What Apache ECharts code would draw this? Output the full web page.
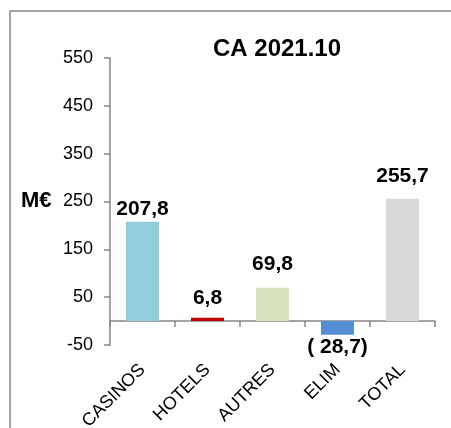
<!DOCTYPE html>
<html>
<head>
<meta charset="utf-8">
<script src="https://cdn.jsdelivr.net/npm/echarts@6/dist/echarts.min.js"></script>
<style>
  html, body { margin: 0; padding: 0; background: #fff; }
  #main { width: 451px; height: 428px; }
</style>
</head>
<body>
<div id="main"></div>
<script>
// CA 2021.10, M€
var categories = ['CASINOS', 'HOTELS', 'AUTRES', 'ELIM', 'TOTAL'];
var values = [207.8, 6.8, 69.8, -28.7, 255.7];
var barColors = ['#92CDDC', '#C00000', '#D7E4BD', '#558ED5', '#D9D9D9'];
var yTicks = [-50, 50, 150, 250, 350, 450, 550];

// label gap from the bar end (Excel places them a bit unevenly)
var labelGap = [2, 9, 13, 2, 12];

function fmt(v) {
    var s = Math.abs(v).toFixed(1).replace('.', ',');
    return v < 0 ? '( ' + s + ')' : s;
}

var seriesData = [];
for (var i = 0; i < values.length; i++) {
    seriesData.push({
        value: values[i],
        itemStyle: { color: barColors[i] },
        label: {
            position: values[i] < 0 ? 'bottom' : 'top',
            distance: labelGap[i]
        }
    });
}

var FONT = '"Liberation Sans", Arial, sans-serif';
var chart = echarts.init(document.getElementById('main'));
var option = {
    animation: false,
    graphic: [
        {
            type: 'rect',
            shape: { x: 10, y: 11, width: 460, height: 430 },
            style: { fill: 'none', stroke: '#888888', lineWidth: 1.5 },
            silent: true
        },
        {
            type: 'text',
            left: 21,
            top: 190,
            style: {
                text: 'M€',
                font: 'bold 22px ' + FONT,
                fill: '#000'
            }
        }
    ],
    title: {
        text: 'CA 2021.10',
        left: 272,
        top: 32,
        textAlign: 'center',
        textStyle: {
            fontFamily: FONT,
            fontSize: 24,
            fontWeight: 'bold',
            color: '#000'
        }
    },
    grid: { left: 110, right: 16, top: 58, bottom: 83, outerBoundsMode: 'none', containLabel: false },
    xAxis: {
        type: 'category',
        data: categories,
        axisLine: { onZero: true, lineStyle: { color: '#868686', width: 1.5 } },
        axisTick: { show: true, length: 6, lineStyle: { color: '#868686', width: 1.5 } },
        axisLabel: {
            rotate: 45,
            interval: 0,
            margin: 22,
            fontFamily: FONT,
            fontSize: 18,
            color: '#000'
        }
    },
    yAxis: {
        type: 'value',
        min: yTicks[0],
        max: yTicks[yTicks.length - 1],
        interval: 100,
        splitLine: { show: false },
        axisLine: { show: true, lineStyle: { color: '#868686', width: 1.5 } },
        axisTick: { show: true, length: 6, lineStyle: { color: '#868686', width: 1.5 } },
        axisLabel: {
            margin: 17,
            fontFamily: FONT,
            fontSize: 18,
            color: '#000'
        }
    },
    series: [
        {
            type: 'bar',
            barWidth: 33,
            data: seriesData,
            label: {
                show: true,
                fontFamily: FONT,
                fontSize: 21,
                fontWeight: 'bold',
                color: '#000',
                formatter: function (p) { return fmt(p.value); }
            }
        }
    ]
};
chart.setOption(option);
</script>
</body>
</html>
